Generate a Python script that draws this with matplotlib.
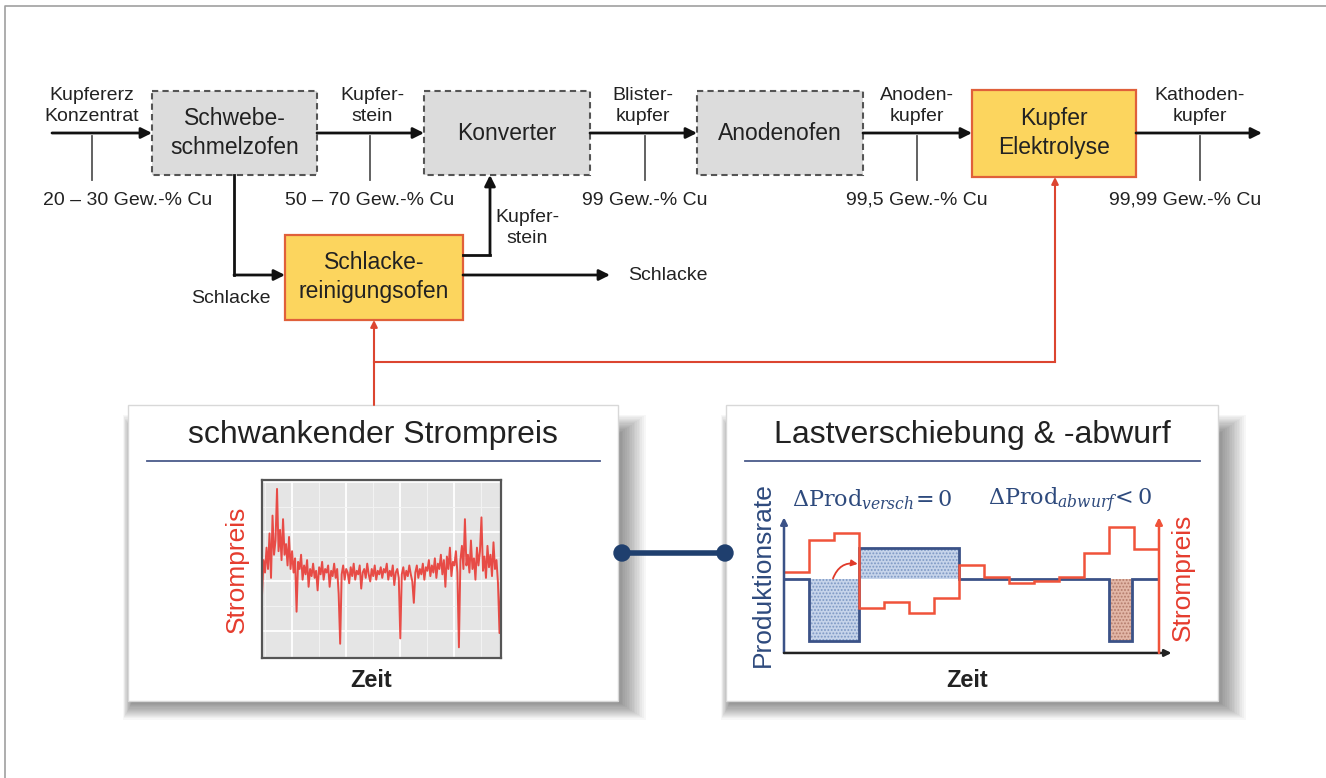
import numpy as np
import matplotlib
matplotlib.use('Agg')
import matplotlib.pyplot as plt
from matplotlib.patches import Rectangle, Circle

plt.rcParams['font.family'] = ['Liberation Sans', 'DejaVu Sans']
plt.rcParams['mathtext.fontset'] = 'dejavuserif'
plt.rcParams['hatch.linewidth'] = 0.9

W, H = 1326, 778

# Prozesskette
stufen = ['Schwebe-\nschmelzofen', 'Konverter', 'Anodenofen', 'Kupfer\nElektrolyse']
stoffe = ['Kupfererz\nKonzentrat', 'Kupfer-\nstein', 'Blister-\nkupfer', 'Anoden-\nkupfer', 'Kathoden-\nkupfer']
gehalte = ['20 – 30 Gew.-% Cu', '50 – 70 Gew.-% Cu', '99 Gew.-% Cu', '99,5 Gew.-% Cu', '99,99 Gew.-% Cu']

# schwankender Strompreis (grob)
preis_verlauf = [
    35, 55, 48, 62, 50, 70, 45, 80, 58, 66, 95, 60, 72, 55, 78, 58, 64, 52, 68, 50,
    60, 48, 56, 26, 54, 50, 58, 44, 52, 47, 55, 40, 50, 46, 53, 45, 49, 38, 51, 47,
    54, 44, 50, 48, 52, 40, 49, 46, 53, 45, 50, 36, 8, 47, 52, 44, 50, 48, 42, 51,
    46, 53, 44, 49, 47, 52, 39, 48, 50, 45, 53, 47, 43, 50, 46, 52, 44, 49, 47, 51,
    45, 50, 48, 53, 44, 49, 46, 52, 41, 48, 50, 45, 11, 47, 51, 44, 49, 46, 52, 47,
    43, 31, 48, 52, 45, 50, 47, 53, 44, 51, 49, 55, 46, 52, 48, 56, 45, 53, 50, 58,
    47, 55, 40, 57, 50, 62, 46, 54, 52, 60, 48, 6, 55, 63, 50, 78, 52, 58, 48, 66,
    50, 56, 44, 62, 52, 60, 79, 49, 57, 45, 63, 51, 58, 46, 65, 50, 55, 42, 14, 40,
]

# Lastverschiebung & -abwurf
zeit_raster = np.arange(16)
preis_stufen = [6.1, 8.5, 9.0, 3.4, 3.8, 3.0, 4.1, 6.6, 5.7, 5.25, 5.4, 5.7, 7.5, 9.5, 7.8]
prod_grenzen = [0, 1, 3, 7, 13, 13.9, 15]
prod_werte = [5.6, 0.9, 7.9, 5.6, 0.9, 5.6]
prod_art = ['', 'versch', 'versch', '', 'abwurf', '']
prod_basis = 5.6

TXT = '#222222'
ROT = '#dc4530'
BLAU = '#2e4a7d'

fig = plt.figure(figsize=(W / 100, H / 100), dpi=100)
ax = fig.add_axes([0, 0, 1, 1])
ax.set_xlim(0, W)
ax.set_ylim(H, 0)
ax.axis('off')


def px_axes(x0, y0, x1, y1):
    return fig.add_axes([x0 / W, 1 - y1 / H, (x1 - x0) / W, (y1 - y0) / H])


def pfeil(x0, y0, x1, y1, color='#111111', lw=2.0, ms=16):
    ax.annotate('', xy=(x1, y1), xytext=(x0, y0),
                arrowprops=dict(arrowstyle='-|>', color=color, lw=lw, mutation_scale=ms,
                                shrinkA=0, shrinkB=0))


# Rahmen
ax.plot([5, 5, W], [H, 6, 6], color='#a0a0a0', lw=1.2)

# Hauptkette
box_x = [(152, 317), (424, 590), (697, 863), (972, 1136)]
for i, (name, (x0, x1)) in enumerate(zip(stufen, box_x)):
    if i < 3:
        ax.add_patch(Rectangle((x0, 91), x1 - x0, 84, facecolor='#dcdcdc', edgecolor='#555555',
                               lw=1.5, linestyle=(0, (3, 2))))
    else:
        ax.add_patch(Rectangle((x0, 90), x1 - x0, 87, facecolor='#fcd55e', edgecolor='#e0603a', lw=1.6))
    ax.text((x0 + x1) / 2, 133, name, ha='center', va='center', fontsize=16.5, color=TXT,
            linespacing=1.3)

pfeil_start = [52, 317, 590, 863, 1136]
pfeil_ende = [152, 424, 697, 972, 1262]
stoff_x = [92, 372, 643, 917, 1200]
linie_x = [92, 370, 645, 917, 1200]
gehalt_x = [128, 370, 645, 917, 1185]
for s, g, x0, x1, sx, lx, gx in zip(stoffe, gehalte, pfeil_start, pfeil_ende, stoff_x, linie_x, gehalt_x):
    pfeil(x0, 133, x1, 133)
    ax.text(sx, 106, s, ha='center', va='center', fontsize=14, color=TXT, linespacing=1.25)
    ax.plot([lx, lx], [136, 180], color='#555555', lw=1.3)
    ax.text(gx, 200, g, ha='center', va='center', fontsize=14, color=TXT)

# Schlackereinigung
ax.add_patch(Rectangle((285, 235), 178, 85, facecolor='#fcd55e', edgecolor='#e0603a', lw=1.6))
ax.text(374, 277, 'Schlacke-\nreinigungsofen', ha='center', va='center', fontsize=16.5,
        color=TXT, linespacing=1.3)
ax.plot([234, 234], [175, 275], color='#111111', lw=2)
pfeil(234, 275, 285, 275)
ax.text(231, 298, 'Schlacke', ha='center', va='center', fontsize=14, color=TXT)
ax.plot([463, 490], [255, 255], color='#111111', lw=2)
pfeil(490, 255, 490, 175)
ax.text(527, 228, 'Kupfer-\nstein', ha='center', va='center', fontsize=14, color=TXT, linespacing=1.25)
pfeil(463, 275, 610, 275)
ax.text(668, 275, 'Schlacke', ha='center', va='center', fontsize=14, color=TXT)

# rote Verbindungen
pfeil(374, 405, 374, 320, color=ROT, lw=1.5, ms=10)
ax.plot([374, 1055], [362, 362], color=ROT, lw=1.5)
pfeil(1055, 362, 1055, 177, color=ROT, lw=1.5, ms=10)


# Panels mit weichem Schatten (nach unten rechts)
def panel(x0, y0, x1, y1, titel, zeit_x):
    for i in range(16):
        l = x0 + 4 - 0.6 * i
        r = x1 + 2 + 1.7 * i
        t = y0 + 28 - 1.2 * i
        b = y1 + 2 + 1.1 * i
        ax.add_patch(Rectangle((l, t), r - l, b - t, facecolor='black', alpha=0.03, lw=0))
    ax.add_patch(Rectangle((x0, y0), x1 - x0, y1 - y0, facecolor='white', edgecolor='#d8d8d8', lw=1))
    ax.text((x0 + x1) / 2, 443, titel, ha='center', va='baseline', fontsize=23, color=TXT)
    ax.plot([x0 + 19, x1 - 18], [461, 461], color='#4a5a8a', lw=1.3)
    ax.text(zeit_x, 687, 'Zeit', ha='center', va='baseline', fontsize=17,
            fontweight='bold', color=TXT)


panel(128, 405, 618, 701, 'schwankender Strompreis', 371)
panel(726, 405, 1218, 701, 'Lastverschiebung & -abwurf', 967)

# Verbindung
ax.plot([622, 725], [553, 553], color='#1f3f6e', lw=4, solid_capstyle='round')
for cx in (622, 725):
    ax.add_patch(Circle((cx, 553), 8, color='#1f3f6e', zorder=5))

# linker Plot: Strompreis
ax.text(237, 569, 'Strompreis', rotation=90, ha='center', va='center', fontsize=19, color='#e53c2e')
ax1 = px_axes(262, 480, 501, 658)
n = len(preis_verlauf)
ax1.plot(np.arange(n), preis_verlauf, color='#e8302a', lw=1.4, alpha=0.85)
ax1.set_xlim(0, n - 1)
ax1.set_ylim(0, 100)
ax1.set_facecolor('#e5e5e5')
ax1.set_xticks([20, 56, 92, 128])
ax1.set_xticks([2, 38, 74, 110, 146], minor=True)
ax1.set_yticks([15, 43, 71, 99])
ax1.set_yticks([29, 57, 85], minor=True)
ax1.tick_params(which='both', length=0, labelbottom=False, labelleft=False)
ax1.grid(which='major', color='white', lw=1.3)
ax1.grid(which='minor', color='#f3f3f3', lw=0.7)
ax1.set_axisbelow(True)
for s in ax1.spines.values():
    s.set_color('#555555')
    s.set_linewidth(1.6)

# rechter Plot: Lastverschiebung
ax.text(763, 575, 'Produktionsrate', rotation=90, ha='center', va='center', fontsize=19, color=BLAU)
ax.text(1183, 577, 'Strompreis', rotation=90, ha='center', va='center', fontsize=19, color='#e53c2e')
ax.text(792, 500, r'$\Delta\mathrm{Prod}_{versch}\!= 0$', ha='left', va='center', fontsize=16, color=BLAU)
ax.text(988, 500, r'$\Delta\mathrm{Prod}_{abwurf}\!< 0$', ha='left', va='center', fontsize=16, color=BLAU)

ax2 = px_axes(774, 505, 1174, 662)
ax2.set_xlim(-0.4, 15.6)
ax2.set_ylim(-0.68, 11.13)
ax2.axis('off')
for t0, t1, v, art in zip(prod_grenzen[:-1], prod_grenzen[1:], prod_werte, prod_art):
    if art == 'versch':
        fc, hc = '#c6d4ea', '#7d98c4'
    elif art == 'abwurf':
        fc, hc = '#e2b6a6', '#b47c6c'
    else:
        continue
    ax2.fill_between([t0, t1], [v, v], prod_basis, facecolor=fc, edgecolor=hc, hatch='.....', lw=0)
ax2.stairs(prod_werte, prod_grenzen, baseline=None, color='#3b5287', lw=2)
ax2.stairs(preis_stufen, zeit_raster, baseline=None, color='#f0533a', lw=1.8)
ax2.annotate('', xy=(0, 10.2), xytext=(0, 0),
             arrowprops=dict(arrowstyle='-|>', color='#3b5287', lw=1.8, mutation_scale=10, shrinkA=0, shrinkB=0))
ax2.annotate('', xy=(15.5, 0), xytext=(0, 0),
             arrowprops=dict(arrowstyle='-|>', color='#222222', lw=1.8, mutation_scale=10, shrinkA=0, shrinkB=0))
ax2.annotate('', xy=(15, 10.2), xytext=(15, 0),
             arrowprops=dict(arrowstyle='-|>', color='#f0533a', lw=1.8, mutation_scale=10, shrinkA=0, shrinkB=0))
ax2.annotate('', xy=(2.95, 6.7), xytext=(1.96, 5.6),
             arrowprops=dict(arrowstyle='-|>', color='#e03a2a', lw=1.3, mutation_scale=9,
                             connectionstyle='arc3,rad=-0.4', shrinkA=0, shrinkB=0))

fig.savefig('out.png', dpi=100)
